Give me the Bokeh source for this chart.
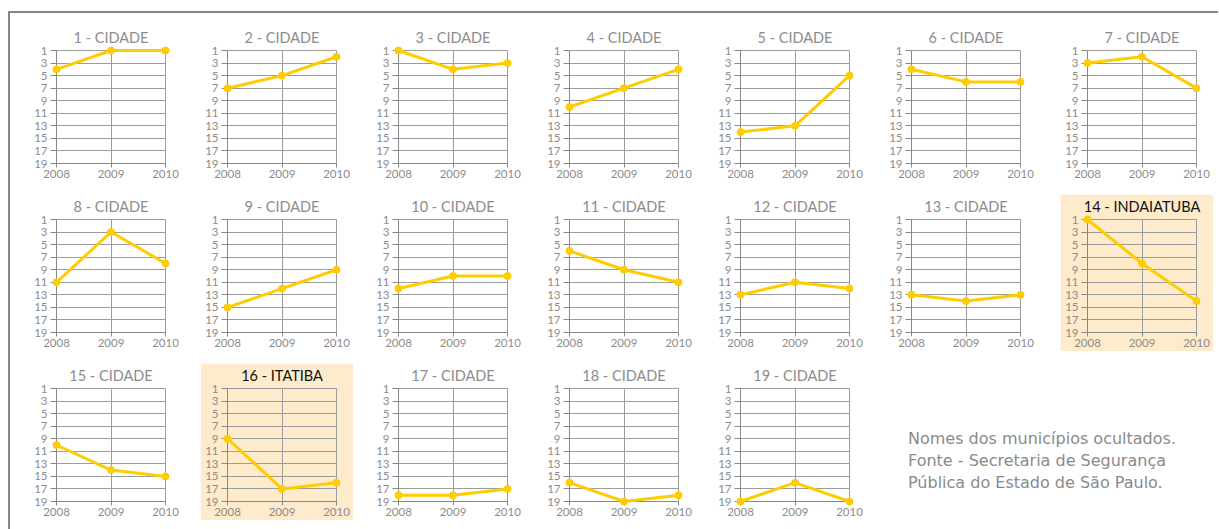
from bokeh.plotting import figure
from bokeh.models import Range1d, FixedTicker, GridBox, Div
from bokeh.layouts import column
from bokeh.embed import file_html
from bokeh.resources import INLINE

years = [2008, 2009, 2010]
rank_ticks = [1, 3, 5, 7, 9, 11, 13, 15, 17, 19]
titles = ["1 - CIDADE", "2 - CIDADE", "3 - CIDADE", "4 - CIDADE", "5 - CIDADE",
          "6 - CIDADE", "7 - CIDADE", "8 - CIDADE", "9 - CIDADE", "10 - CIDADE",
          "11 - CIDADE", "12 - CIDADE", "13 - CIDADE", "14 - INDAIATUBA", "15 - CIDADE",
          "16 - ITATIBA", "17 - CIDADE", "18 - CIDADE", "19 - CIDADE"]
ranks = [
    [4, 1, 1], [7, 5, 2], [1, 4, 3], [10, 7, 4], [14, 13, 5], [4, 6, 6], [3, 2, 7],
    [11, 3, 8], [15, 12, 9], [12, 10, 10], [6, 9, 11], [13, 11, 12], [13, 14, 13], [1, 8, 14],
    [10, 14, 15], [9, 17, 16], [18, 18, 17], [16, 19, 18], [19, 16, 19],
]
highlighted = ["14 - INDAIATUBA", "16 - ITATIBA"]
note_lines = ["Nomes dos municípios ocultados.",
              "Fonte - Secretaria de Segurança",
              "Pública do Estado de São Paulo."]

GOLD = "#FFCC00"
GRID = "#9c9c9c"
LABEL = "#8c8c8c"
HIL = "#FDEBCB"
FONT = "Lato"

figs = []
for t, r in zip(titles, ranks):
    hi = t in highlighted
    bg = HIL if hi else "white"
    p = figure(width=153, height=157, x_range=Range1d(2008, 2010), y_range=Range1d(19, 1),
               output_backend="svg", toolbar_location=None, title=t,
               min_border_left=27, min_border_right=17, min_border_top=25, min_border_bottom=19)
    p.border_fill_color = bg
    p.background_fill_color = bg
    p.outline_line_color = GRID
    p.title.align = "center"
    p.title.vertical_align = "top"
    p.title.text_font = FONT
    p.title.text_font_size = "14.5px"
    p.title.text_font_style = "normal"
    p.title.text_color = "#111111" if hi else "#8c8c8c"
    p.title.standoff = 6
    p.xaxis.ticker = FixedTicker(ticks=years)
    p.yaxis.ticker = FixedTicker(ticks=rank_ticks)
    for ax in (p.xaxis[0], p.yaxis[0]):
        ax.axis_line_color = "#888888"
        ax.major_tick_line_color = "#888888"
        ax.minor_tick_line_color = None
        ax.major_tick_in = 0
        ax.major_label_text_color = LABEL
        ax.major_label_text_font = FONT
        ax.major_label_text_font_size = "11.5px"
    p.xaxis.major_tick_out = 4
    p.xaxis.major_label_standoff = 2
    p.yaxis.major_tick_out = 6
    p.yaxis.major_label_standoff = 3
    p.xgrid.grid_line_color = GRID
    p.ygrid.grid_line_color = GRID
    p.line(years, r, line_color=GOLD, line_width=3, level="overlay")
    p.scatter(years, r, size=7, color=GOLD, level="overlay")
    figs.append(p)

note = Div(text='<div style="font-family: \'DejaVu Sans\'; font-size: 16px; color: #8a8a8a; '
                'line-height: 22px; padding-left: 19px; padding-top: 60px;">'
                + "<br>".join(note_lines) + "</div>",
           width=324, height=157)

children = [(figs[i], i // 7, i % 7) for i in range(len(figs))] + [(note, 2, 5, 1, 2)]
grid = GridBox(children=children, spacing=(12, 18))

layout = column(grid, styles={"border-top": "2px solid #858585", "border-left": "2px solid #858585",
                              "padding-left": "19px", "padding-top": "12px",
                              "margin-top": "11px", "margin-left": "8px"})

open("out.html", "w").write(file_html(layout, INLINE))
